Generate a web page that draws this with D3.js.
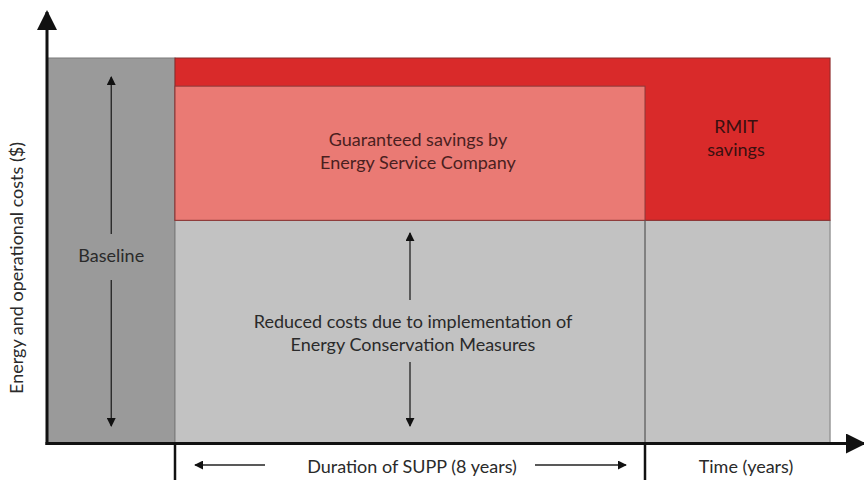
<!DOCTYPE html>
<html>
<head>
<meta charset="utf-8">
<script src="https://cdn.jsdelivr.net/npm/d3@7"></script>
<style>
  body { margin: 0; background: #fff; }
  svg { display: block; font-family: Lato, "Open Sans", sans-serif; }
</style>
</head>
<body>
<svg id="chart"></svg>
<script>
"use strict";

// periods along the time axis (years, 0 = start of SUPP)
const periods = ["Baseline", "SUPP", "After"];
const periodStart = [-2.17, 0, 8];
const periodEnd = [0, 8, 11.15];

// cost levels (% of baseline)
const baselineCost = 100;
const guaranteedLevel = 92.7;
const reducedCost = 57.9;

const width = 864, height = 480;
const svg = d3.select('#chart').attr('width', width).attr('height', height);

const x = d3.scaleLinear().domain([0, 8]).range([175, 645]);
const y = d3.scaleLinear().domain([0, 100]).range([443.5, 58]);

const defs = svg.append('defs');
function marker(id, size) {
    defs.append('marker')
        .attr('id', id)
        .attr('viewBox', '0 0 10 10')
        .attr('refX', 9).attr('refY', 5)
        .attr('markerWidth', size).attr('markerHeight', size)
        .attr('markerUnits', 'userSpaceOnUse')
        .attr('orient', 'auto')
        .append('path').attr('d', 'M0,0 L10,5 L0,10 z').attr('fill', '#111');
}
marker('big', 20);
marker('small', 9);

// baseline block
svg.append('rect')
    .attr('x', x(periodStart[0])).attr('y', y(baselineCost))
    .attr('width', x(periodEnd[0]) - x(periodStart[0]))
    .attr('height', y(0) - y(baselineCost))
    .attr('fill', '#9a9a9a').attr('stroke', '#7a7a7a').attr('stroke-width', 1);

// reduced costs (whole post-baseline span)
svg.append('rect')
    .attr('x', x(periodStart[1])).attr('y', y(reducedCost))
    .attr('width', x(periodEnd[2]) - x(periodStart[1]))
    .attr('height', y(0) - y(reducedCost))
    .attr('fill', '#c2c2c2').attr('stroke', '#7a7a7a').attr('stroke-width', 1);

// red savings band
svg.append('rect')
    .attr('x', x(periodStart[1])).attr('y', y(baselineCost))
    .attr('width', x(periodEnd[2]) - x(periodStart[1]))
    .attr('height', y(reducedCost) - y(baselineCost))
    .attr('fill', '#d92a2a').attr('stroke', '#8a2a2a').attr('stroke-width', 1);

// guaranteed savings (SUPP period)
svg.append('rect')
    .attr('x', x(periodStart[1])).attr('y', y(guaranteedLevel))
    .attr('width', x(periodEnd[1]) - x(periodStart[1]))
    .attr('height', y(reducedCost) - y(guaranteedLevel))
    .attr('fill', '#ea7a74').attr('stroke', '#8a3a3a').attr('stroke-width', 1);

// period divider in the grey area
svg.append('line')
    .attr('x1', x(periodEnd[1])).attr('x2', x(periodEnd[1]))
    .attr('y1', y(reducedCost)).attr('y2', y(0))
    .attr('stroke', '#555').attr('stroke-width', 1.2);

// axes
svg.append('line')
    .attr('x1', 47).attr('x2', 47).attr('y1', y(0) + 1.5).attr('y2', 12)
    .attr('stroke', '#111').attr('stroke-width', 3).attr('marker-end', 'url(#big)');
svg.append('line')
    .attr('x1', 45.5).attr('x2', 864).attr('y1', y(0)).attr('y2', y(0))
    .attr('stroke', '#111').attr('stroke-width', 3).attr('marker-end', 'url(#big)');

// ticks below the axis
[periodStart[1], periodEnd[1]].forEach(t => {
    svg.append('line')
        .attr('x1', x(t)).attr('x2', x(t)).attr('y1', y(0)).attr('y2', height)
        .attr('stroke', '#111').attr('stroke-width', 2.5);
});

function arrow(x1, y1, x2, y2, w) {
    svg.append('line')
        .attr('x1', x1).attr('y1', y1).attr('x2', x2).attr('y2', y2)
        .attr('stroke', '#222').attr('stroke-width', w || 1.3)
        .attr('marker-end', 'url(#small)');
}

// baseline double arrow
const bx = (x(periodStart[0]) + x(periodEnd[0])) / 2;
arrow(bx, 234, bx, 77);
arrow(bx, 280, bx, 426);

// reduced costs arrows
const rx = x(4);
arrow(rx, 300, rx, 233);
arrow(rx, 362, rx, 426);

// duration arrows
arrow(265, 465, 195, 465);
arrow(535, 465, 626, 465);

function label(lines, cx, cy, size, color) {
    const t = svg.append('text')
        .attr('text-anchor', 'middle')
        .attr('font-size', size).attr('fill', color || '#2a2a2a');
    lines.forEach((s, i) => {
        t.append('tspan').attr('x', cx).attr('y', cy + i * 23).text(s);
    });
}

label(["Guaranteed savings by", "Energy Service Company"], 418, 146, 18, '#4a1f1f');
label(["RMIT", "savings"], 736, 133, 18, '#3a1010');
label(["Baseline"], bx, 262, 18);
label(["Reduced costs due to implementation of", "Energy Conservation Measures"], 413, 328, 18);
label(["Duration of SUPP (8 years)"], 412, 473, 18);
label(["Time (years)"], 746, 473, 18);

svg.append('text')
    .attr('transform', 'translate(23,268) rotate(-90)')
    .attr('text-anchor', 'middle').attr('font-size', 18).attr('fill', '#2a2a2a')
    .text("Energy and operational costs ($)");
</script>
</body>
</html>
